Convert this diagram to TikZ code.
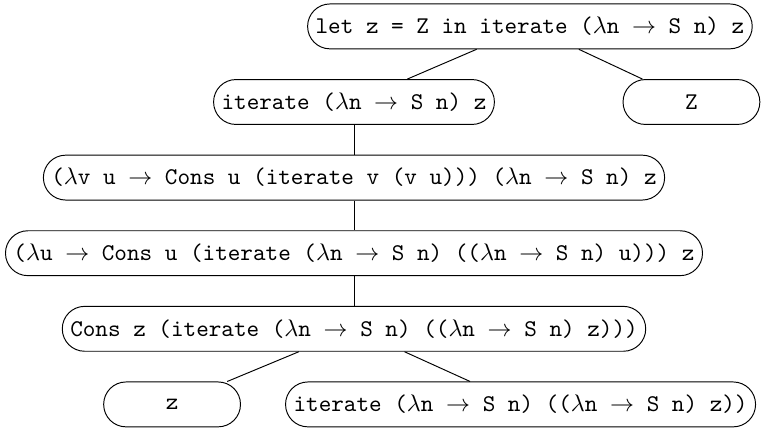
\documentclass[tikz,border=0pt]{standalone}
\usepackage{amsmath}
\usepackage{amssymb}
\usepackage{tikz}
\usetikzlibrary{positioning}

\begin{document}
\begin{tikzpicture}[-,auto,node distance=31.5pt,thin]
  \tikzstyle{term}=[draw=black, text=black, rounded corners=9.3pt, minimum height=18.7pt, font=\ttfamily]
  \tikzstyle{leaf}=[term, minimum width=57pt]
  \useasboundingbox (-220.8pt,11pt) rectangle (96.7pt,-168.2pt);
  \node[term] (A) {let z = Z in iterate ($\lambda$n $\rightarrow$ S n) z};
  \node[term] (B) [below of=A, xshift=-73.3pt] {iterate ($\lambda$n $\rightarrow$ S n) z};
  \node[leaf] (C) [below of=A, xshift=67.3pt] {Z};
  \node[term] (D) [below of=B] {($\lambda$v u $\rightarrow$ Cons u (iterate v (v u))) ($\lambda$n $\rightarrow$ S n) z};
  \node[term] (E) [below of=D] {($\lambda$u $\rightarrow$ Cons u (iterate ($\lambda$n $\rightarrow$ S n) (($\lambda$n $\rightarrow$ S n) u))) z};
  \node[term] (F) [below of=E] {Cons z (iterate ($\lambda$n $\rightarrow$ S n) (($\lambda$n $\rightarrow$ S n) z)))};
  \node[leaf] (G) [below of=F, xshift=-75.8pt] {z};
  \node[term] (H) [below of=F, xshift=69.4pt] {iterate ($\lambda$n $\rightarrow$ S n) (($\lambda$n $\rightarrow$ S n) z))};
  \path (A) edge (B)
        (A) edge (C)
        (B) edge (D)
        (D) edge (E)
        (E) edge (F)
        (F) edge (G)
        (F) edge (H);
\end{tikzpicture}
\end{document}
